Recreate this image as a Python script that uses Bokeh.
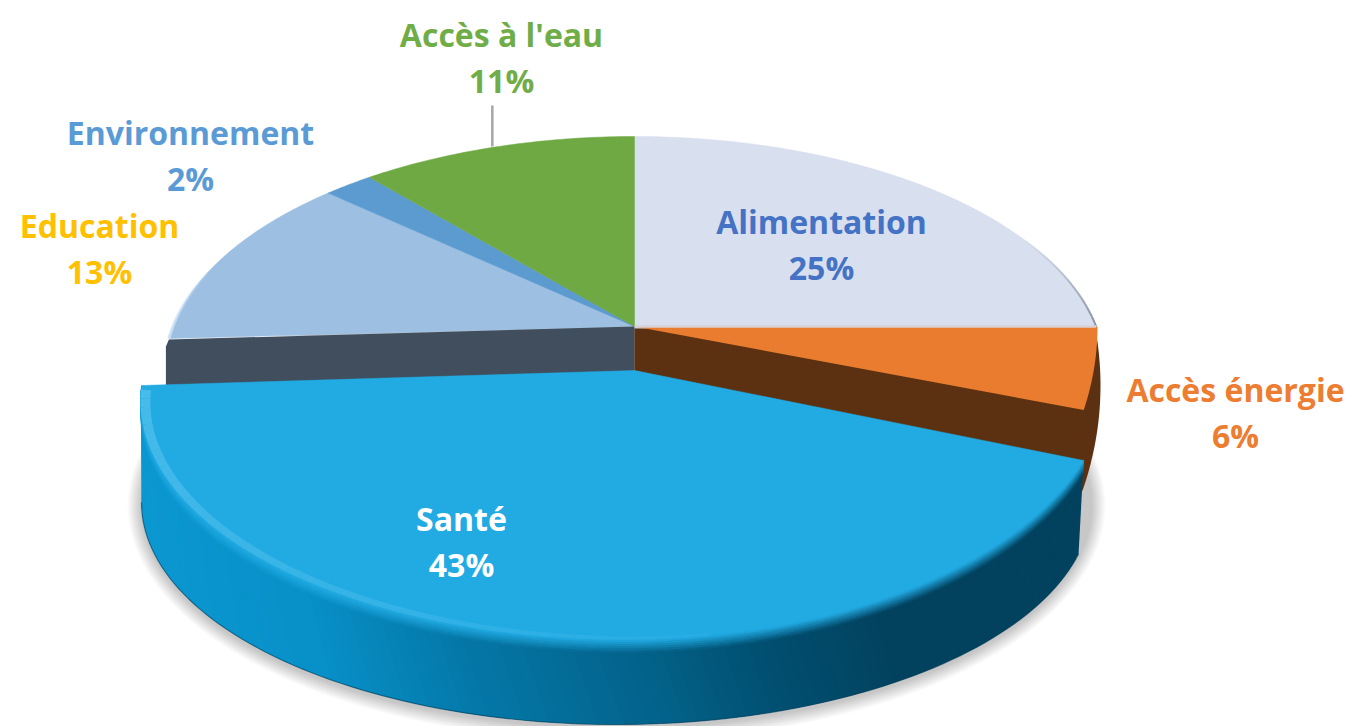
import numpy as np
from bokeh.plotting import figure
from bokeh.models import Range1d
from bokeh.core.properties import value
from bokeh.embed import file_html
from bokeh.resources import INLINE

# ---- data ----
categories = ["Alimentation", "Accès énergie", "Santé", "Education", "Environnement", "Accès à l'eau"]
shares = [25, 6, 43, 13, 2, 11]

# ---- styles ----
face_colors = ["#d8dfef", "#e97c2e", "#22abe3", "#9dbfe2", "#5b9bd0", "#6fa944"]
text_colors = ["#4472c4", "#ed7d31", "#ffffff", "#ffc000", "#5b9bd5", "#70ad47"]
label_x = [821, 1235, 461, 99, 190, 501]
label_name_y = [221, 389, 518, 225, 132, 34]
LINE_GAP = 46
W, H = 1350, 726
FONT = "Open Sans"
FONT_SIZE = "32px"

# ---- geometry of the tilted pie (screen pixels) ----
APEX = np.array([634.0, 326.0])
RIM = (634.0, 370.0, 470.0, 234.0)
TOP = (624.0, 375.0, 485.0, 264.0)
TOP_LEFT = (624.0, 400.0, 484.0, 239.0)
BOT = (616.0, 502.0, 475.0, 222.0)
DIR_RX, DIR_RY = 463.0, 190.0
SANTE_APEX = np.array([634.0, 370.0])


def hex2rgb(c):
    return np.array([int(c[i:i + 2], 16) for i in (1, 3, 5)], float)


def mix(a, b, f):
    v = hex2rgb(a) * (1 - f) + hex2rgb(b) * f
    return "#%02x%02x%02x" % tuple(int(round(x)) for x in v)


def ell(e, t):
    t = np.radians(t)
    return e[0] + e[2] * np.sin(t), e[1] - e[3] * np.cos(t)


def top_arc(t):
    """Front rim of the pulled-out slice: its left half bulges more than its right half."""
    t = np.asarray(t, float)
    xr, yr = ell(TOP, t)
    xl, yl = ell(TOP_LEFT, t)
    return np.where(t <= 180, xr, xl), np.where(t <= 180, yr, yl)


def rim(theta):
    """Where the ray from the apex at clock angle theta meets the back rim."""
    th = np.radians(np.asarray(theta, float))
    dx, dy = DIR_RX * np.sin(th), -DIR_RY * np.cos(th)
    ox, oy = (APEX[0] - RIM[0]) / RIM[2], (APEX[1] - RIM[1]) / RIM[3]
    a = (dx / RIM[2]) ** 2 + (dy / RIM[3]) ** 2
    b = 2 * (ox * dx / RIM[2] + oy * dy / RIM[3])
    c = ox ** 2 + oy ** 2 - 1
    s = (-b + np.sqrt(b * b - 4 * a * c)) / (2 * a)
    return APEX[0] + s * dx, APEX[1] + s * dy


cum = np.cumsum([0] + shares) * 3.6
LEFT_SHIFT = 3.5
edges = cum.copy()
edges[4] += LEFT_SHIFT
edges[5] += LEFT_SHIFT
RIGHT_SHIFT = 2.8
END_SHIFT = 7.2
t_start, t_end = cum[2] - RIGHT_SHIFT, cum[3] + END_SHIFT

p = figure(width=W, height=H, x_range=Range1d(0, W), y_range=Range1d(H, 0),
           output_backend="svg", toolbar_location=None, min_border=0,
           x_axis_type=None, y_axis_type=None, outline_line_color=None,
           background_fill_color="#ffffff", border_fill_color="#ffffff")
p.grid.visible = False

# soft shadow below the pie
for k in range(14, 0, -1):
    x, y = ell((BOT[0], BOT[1] + 3, BOT[2] + k, BOT[3] + k), np.linspace(0, 360, 181))
    p.patch(x, y, fill_color="#000000", fill_alpha=0.015, line_color=None)

# back slices
for i in (0, 3, 4, 5):
    th = np.linspace(edges[i], edges[i + 1], 60)
    x, y = rim(th)
    p.patch(np.r_[APEX[0], x], np.r_[APEX[1], y], fill_color=face_colors[i],
            line_color=face_colors[i], line_width=0.5)

# thin rims on the back slices, fading in along the arc
x, y = rim(np.linspace(62, 90, 29))
p.multi_line([[x[i], x[i + 1]] for i in range(28)], [[y[i], y[i + 1]] for i in range(28)],
             line_color="#7f8a9c", line_width=2, line_alpha=list(np.linspace(0.05, 0.95, 28)))
x, y = rim(np.linspace(cum[3], cum[3] + 22, 23))
p.multi_line([[x[i], x[i + 1]] for i in range(22)], [[y[i], y[i + 1]] for i in range(22)],
             line_color="#cfe3f7", line_width=3, line_alpha=list(np.linspace(0.95, 0.05, 22)))

# slate cut wall under Education
rx0, ry0 = rim(cum[3])
p.patch([APEX[0], rx0, rx0 - 3, rx0 - 3, APEX[0]],
        [APEX[1], ry0 + 1, ry0 + 8, ry0 + 58, APEX[1] + 58],
        fill_color="#404e5e", line_color=None)

# brown wall and rim of the Accès énergie slice
WALL = (634.0, 385.0, 466.0, 382.0)
x, y = ell(WALL, np.linspace(82, 106, 30))
p.patch(np.r_[APEX[0], x, SANTE_APEX[0]], np.r_[APEX[1] + 2, y, SANTE_APEX[1]],
        fill_color="#5c3112", line_color=None)

# orange face
ORANGE = (634.0, 326.0, 463.0, 345.0)
ORANGE_SHIFT = 7.6
x, y = ell(ORANGE, np.linspace(cum[1], cum[2] - ORANGE_SHIFT, 30))
p.patch(np.r_[APEX[0], x], np.r_[APEX[1], y], fill_color=face_colors[1], line_color=None)

# pale seam between Alimentation and Accès énergie
sx, sy = rim(cum[1])
p.line([APEX[0], sx], [APEX[1], sy], line_color="#d8d0d4", line_width=2.5)

# Santé side: gradient made of many small overlapping quads
stops_x = [140, 300, 450, 634, 760, 880, 1090]
stops_c = ["#0b97d0", "#0890c8", "#0478a8", "#03628a", "#014e70", "#02425f", "#02425f"]


def side_color(px):
    px = np.clip(px, stops_x[0], stops_x[-1])
    j = min(np.searchsorted(stops_x, px, side="right") - 1, len(stops_x) - 2)
    return mix(stops_c[j], stops_c[j + 1], (px - stops_x[j]) / (stops_x[j + 1] - stops_x[j]))


N = 110
t_top = np.linspace(t_start, t_end, N + 1)
t_bot = np.linspace(103.4, 270.0, N + 1)
tx, ty = top_arc(t_top)
bx, by = ell(BOT, t_bot)
xs, ys, cs = [], [], []
for i in range(N):
    e = min(i + 2, N)
    xs.append([tx[i], tx[e], bx[e], bx[i]])
    ys.append([ty[i], ty[e], by[e], by[i]])
    cs.append(side_color((tx[i] + tx[i + 1]) / 2))
p.patches(xs, ys, fill_color=cs, line_color=None)

# soft edge between top face and side
BANDS = 6
for j in range(BANDS - 1, -1, -1):
    d1 = (j + 1) * 2.2
    xs, ys, cs = [], [], []
    for i in range(N):
        e = min(i + 2, N)
        xs.append([tx[i], tx[e], tx[e], tx[i]])
        ys.append([ty[i] - 1, ty[e] - 1, ty[e] + d1, ty[i] + d1])
        cs.append(mix(face_colors[2], side_color((tx[i] + tx[i + 1]) / 2), (j + 0.5) / BANDS))
    p.patches(xs, ys, fill_color=cs, line_color=None)

# dark bottom edge
p.line(bx, by, line_color="#00405c", line_width=1.2, line_alpha=0.6)

# Santé top face
t = np.linspace(t_start, t_end, 120)
x, y = top_arc(t)
p.patch(np.r_[SANTE_APEX[0], x], np.r_[SANTE_APEX[1], y], fill_color=face_colors[2],
        line_color=face_colors[2], line_width=0.5)

# highlight along the front-left edge of the top face
t_hi = np.linspace(t_end - 1, 170, 50)
hx, hy = top_arc(t_hi)
inset = np.linspace(5, 1, 50)
hx = hx + (TOP_LEFT[0] - hx) / TOP_LEFT[2] * inset
hy = hy + (TOP_LEFT[1] - hy) / TOP_LEFT[3] * inset
fade = np.linspace(0.95, 0.15, 49)
width = np.linspace(10, 3, 49)
p.multi_line([[hx[i], hx[i + 1]] for i in range(49)], [[hy[i], hy[i + 1]] for i in range(49)],
             line_color="#4abcea", line_alpha=list(fade), line_width=list(width))

# leader line for Accès à l'eau, at the middle of its slice
lx, ly = rim((edges[5] + edges[6]) / 2)
p.segment([lx], [ly - 42], [lx], [ly - 1], line_color="#a6a6a6", line_width=2.5)

# labels
names = list(categories)
pcts = [f"{s}%" for s in shares]
p.text(label_x, label_name_y, text=names, text_color=text_colors, text_align="center",
       text_baseline="middle", text_font=value(FONT), text_font_size=FONT_SIZE, text_font_style="bold")
p.text(label_x, [v + LINE_GAP for v in label_name_y], text=pcts, text_color=text_colors,
       text_align="center", text_baseline="middle", text_font=value(FONT),
       text_font_size=FONT_SIZE, text_font_style="bold")

open("out.html", "w").write(file_html(p, INLINE))
